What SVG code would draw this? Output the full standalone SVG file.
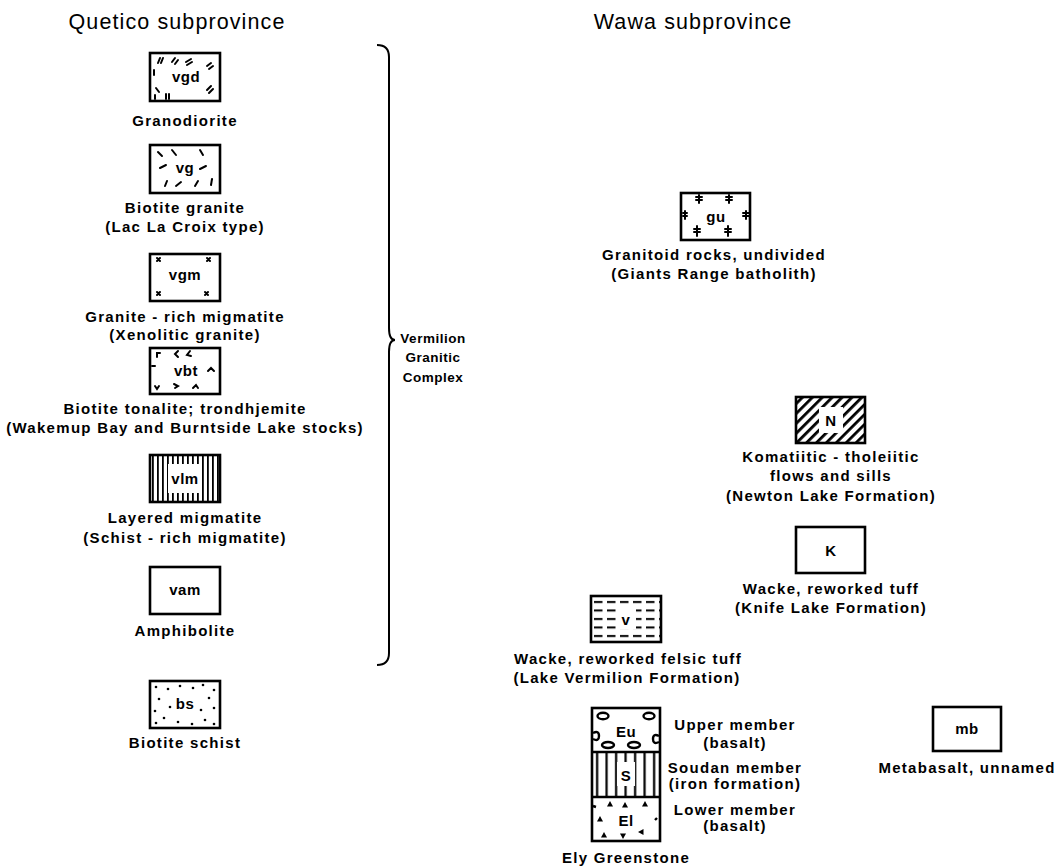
<svg xmlns="http://www.w3.org/2000/svg" width="1059" height="867" viewBox="0 0 1059 867">
<style>
.t{font-family:"Liberation Sans",Arial,sans-serif;font-weight:bold;font-size:15px;letter-spacing:1.3px;text-anchor:middle;fill:#000}
.v{font-family:"Liberation Sans",Arial,sans-serif;font-weight:bold;font-size:13.5px;letter-spacing:0.5px;text-anchor:middle;fill:#000}
.h{font-family:"Liberation Sans",Arial,sans-serif;font-size:21.5px;letter-spacing:1.1px;text-anchor:middle;fill:#000}
.b{font-family:"Liberation Sans",Arial,sans-serif;font-weight:bold;font-size:15px;letter-spacing:0.5px;text-anchor:middle;fill:#000}
.box{fill:none;stroke:#000;stroke-width:2.6}
.m{stroke:#000;stroke-width:2;fill:none;stroke-linecap:round}
.o{stroke:#000;stroke-width:2.4;fill:none}
</style>
<defs>
<pattern id="vl" width="5" height="10" patternUnits="userSpaceOnUse" x="150"><rect x="2" y="0" width="1.8" height="10" fill="#000"/></pattern>
<pattern id="vs" width="9.5" height="10" patternUnits="userSpaceOnUse" x="592"><rect x="4" y="0" width="2.2" height="10" fill="#000"/></pattern>
<pattern id="hatch" width="7" height="7" patternUnits="userSpaceOnUse" patternTransform="rotate(45)"><rect x="0" y="0" width="2.8" height="7" fill="#000"/></pattern>
<pattern id="dash" width="13" height="8.5" patternUnits="userSpaceOnUse" x="594" y="599"><rect x="0" y="2" width="8.5" height="2" fill="#000"/></pattern>
<g id="tri"><path d="M0,-3 L3,2.5 L-3,2.5 Z" fill="#000"/></g>
</defs>

<text class="h" x="177" y="29">Quetico subprovince</text>
<text class="h" x="693" y="29">Wawa subprovince</text>

<g id="vgd">
<rect class="box" x="150" y="53" width="70" height="48"/>
<g class="m">
<path d="M160,58 l-2,5 M163,58 l-2,5"/><path d="M172,62 l3,-4 M175,64 l3,-4"/><path d="M186,62 l5,-3 M187,65 l5,-3"/>
<path d="M207,66 l4,-3 M209,69 l4,-3"/><path d="M154,70 l0,5"/><path d="M207,90 l4,-4 M209,93 l4,-4"/>
<path d="M156,88 l3,4"/><path d="M155,95 l0,4"/><path d="M166,94 l0,5 M169,94 l0,5"/>
</g>
<text class="b" x="186" y="82">vgd</text>
<text class="t" x="185" y="126">Granodiorite</text>
</g>

<g id="vg">
<rect class="box" x="150" y="145" width="70" height="48"/>
<g class="m">
<path d="M158,152 l4,4"/><path d="M172,150 l4,5"/><path d="M200,150 l3,5"/><path d="M160,168 l6,-3"/>
<path d="M200,169 l6,-3"/><path d="M165,186 l2,-5"/><path d="M176,186 l5,-4"/><path d="M195,186 l3,-5"/><path d="M211,185 l1,-6"/>
</g>
<text class="b" x="185" y="173">vg</text>
<text class="t" x="185" y="213">Biotite granite</text>
<text class="t" x="185" y="232">(Lac La Croix type)</text>
</g>

<g id="vgm">
<rect class="box" x="150" y="254" width="70" height="47"/>
<g class="m" stroke-width="1.6">
<path d="M157,258 l3,3 M160,258 l-3,3"/><path d="M207,258 l3,3 M210,258 l-3,3"/>
<path d="M157,292 l3,3 M160,292 l-3,3"/><path d="M205,292 l3,3 M208,292 l-3,3"/>
</g>
<text class="b" x="185" y="280">vgm</text>
<text class="t" x="185" y="322">Granite - rich migmatite</text>
<text class="t" x="185" y="340">(Xenolitic granite)</text>
</g>

<g id="vbt">
<rect class="box" x="150" y="348" width="70" height="46"/>
<g class="m" stroke-width="1.8">
<path d="M157,357 l0,-4 l3,0"/><path d="M178,351 l-3,3 l3,3"/><path d="M190,351 l-3,4 l4,1"/>
<path d="M152,366 l3,0"/><path d="M208,371 l3,-3 l3,3"/><path d="M155,386 l2,3 l2,-3"/>
<path d="M174,384 l4,2 l-3,2"/><path d="M193,388 l3,-3 l2,3"/>
</g>
<text class="b" x="186" y="376">vbt</text>
<text class="t" x="185" y="414">Biotite tonalite; trondhjemite</text>
<text class="t" x="185" y="433">(Wakemup Bay and Burntside Lake stocks)</text>
</g>

<g id="vlm">
<rect x="150" y="455" width="70" height="47" fill="url(#vl)"/>
<rect x="168" y="464" width="34" height="29" fill="#fff"/>
<rect class="box" x="150" y="455" width="70" height="47"/>
<text class="b" x="185" y="484">vlm</text>
<text class="t" x="185" y="523">Layered migmatite</text>
<text class="t" x="185" y="543">(Schist - rich migmatite)</text>
</g>

<g id="vam">
<rect class="box" x="150" y="567" width="70" height="47"/>
<text class="b" x="185" y="595">vam</text>
<text class="t" x="185" y="636">Amphibolite</text>
</g>

<g id="bs">
<g fill="#000">
<circle cx="156" cy="687" r="1.3"/><circle cx="168" cy="689" r="1.3"/><circle cx="180" cy="686" r="1.3"/><circle cx="193" cy="688" r="1.3"/><circle cx="203" cy="685" r="1.3"/><circle cx="214" cy="690" r="1.3"/>
<circle cx="159" cy="699" r="1.3"/><circle cx="209" cy="698" r="1.3"/><circle cx="155" cy="711" r="1.3"/><circle cx="214" cy="708" r="1.3"/>
<circle cx="164" cy="718" r="1.3"/><circle cx="156" cy="723" r="1.3"/><circle cx="178" cy="722" r="1.3"/><circle cx="192" cy="724" r="1.3"/><circle cx="205" cy="720" r="1.3"/><circle cx="214" cy="724" r="1.3"/><circle cx="170" cy="707" r="1.3"/><circle cx="201" cy="710" r="1.3"/>
</g>
<rect class="box" x="150" y="681" width="70" height="47"/>
<text class="b" x="185" y="709">bs</text>
<text class="t" x="185" y="748">Biotite schist</text>
</g>

<g id="vermilion">
<path d="M377,45 Q389,45 389,57 L389,328 Q389,340 395,340 Q389,340 389,352 L389,653 Q389,665 377,665" fill="none" stroke="#000" stroke-width="2"/>
<text class="v" x="433" y="343">Vermilion</text>
<text class="v" x="433" y="362">Granitic</text>
<text class="v" x="433" y="382">Complex</text>
</g>

<g id="gu">
<rect class="box" x="681" y="193" width="69" height="47"/>
<g class="m" stroke-width="1.6">
<path d="M699,195 l0,8 M696,197 l6,0 M696,200 l6,0"/><path d="M729,195 l0,8 M726,197 l6,0 M726,200 l6,0"/>
<path d="M685,211 l0,8 M683,213 l4,0 M683,216 l4,0"/><path d="M746,211 l0,8 M743,213 l6,0 M743,216 l6,0"/>
<path d="M697,226 l0,10 M694,229 l6,0 M694,232 l6,0"/><path d="M728,226 l0,10 M725,229 l6,0 M725,232 l6,0"/>
</g>
<text class="b" x="716" y="222">gu</text>
<text class="t" x="714" y="260">Granitoid rocks, undivided</text>
<text class="t" x="714" y="279">(Giants Range batholith)</text>
</g>

<g id="N">
<rect x="796" y="397" width="69" height="46" fill="url(#hatch)"/>
<rect x="819" y="407" width="24" height="26" fill="#fff"/>
<rect class="box" x="796" y="397" width="69" height="46"/>
<text class="b" x="831" y="426">N</text>
<text class="t" x="831" y="462">Komatiitic - tholeiitic</text>
<text class="t" x="831" y="481">flows and sills</text>
<text class="t" x="831" y="501">(Newton Lake Formation)</text>
</g>

<g id="K">
<rect class="box" x="796" y="527" width="69" height="46"/>
<text class="b" x="831" y="556">K</text>
<text class="t" x="831" y="594">Wacke, reworked tuff</text>
<text class="t" x="831" y="613">(Knife Lake Formation)</text>
</g>

<g id="V">
<rect x="591" y="596" width="70" height="46" fill="url(#dash)"/>
<rect x="616" y="609" width="20" height="20" fill="#fff"/>
<rect class="box" x="591" y="596" width="70" height="46"/>
<text class="b" x="626" y="625">v</text>
<text class="t" x="628" y="664">Wacke, reworked felsic tuff</text>
<text class="t" x="627" y="683">(Lake Vermilion Formation)</text>
</g>

<g id="ely">
<rect x="592" y="752" width="68" height="45" fill="url(#vs)"/>
<rect x="617" y="762" width="18" height="24" fill="#fff"/>
<g class="o">
<ellipse cx="603" cy="716" rx="5.5" ry="3.2"/><ellipse cx="649" cy="716" rx="5.5" ry="3.2"/>
<path d="M593,733 q6,-3 6,3 q0,6 -6,3"/><path d="M659,736 q-6,-3 -6,3 q0,6 6,3"/>
<ellipse cx="608" cy="745" rx="6" ry="3"/><ellipse cx="634" cy="745" rx="6" ry="3"/>
</g>
<use href="#tri" x="610" y="804"/><use href="#tri" x="625" y="805"/><use href="#tri" x="645" y="804"/>
<use href="#tri" x="600" y="819"/><use href="#tri" x="604" y="835"/><use href="#tri" x="623" y="836" transform="rotate(180 623 836)"/>
<use href="#tri" x="641" y="832" transform="rotate(-90 641 832)"/>
<path class="o" d="M593,806 l3,1 M657,818 l-2,2"/>
<line x1="592" y1="752" x2="660" y2="752" stroke="#000" stroke-width="2.4"/>
<line x1="592" y1="797" x2="660" y2="797" stroke="#000" stroke-width="2.4"/>
<rect class="box" x="592" y="708" width="68" height="133"/>
<text class="b" x="626" y="737">Eu</text>
<text class="b" x="626" y="781">S</text>
<text class="b" x="626" y="826">El</text>
<text class="t" x="735" y="730">Upper member</text>
<text class="t" x="735" y="748">(basalt)</text>
<text class="t" x="735" y="773">Soudan member</text>
<text class="t" x="735" y="789">(iron formation)</text>
<text class="t" x="735" y="815">Lower member</text>
<text class="t" x="735" y="831">(basalt)</text>
<text class="t" x="626" y="863">Ely Greenstone</text>
</g>

<g id="mb">
<rect class="box" x="933" y="707" width="68" height="44"/>
<text class="b" x="967" y="734">mb</text>
<text class="t" x="967" y="773">Metabasalt, unnamed</text>
</g>
</svg>
